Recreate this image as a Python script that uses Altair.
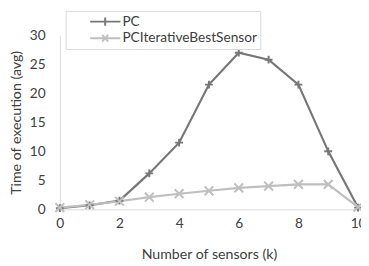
import altair as alt
import pandas as pd

k_values = [0, 1, 2, 3, 4, 5, 6, 7, 8, 9, 10]
pc_values = [0.2, 0.7, 1.5, 6.2, 11.5, 21.5, 27.0, 25.8, 21.5, 10.0, 0.3]
iter_values = [0.3, 0.8, 1.4, 2.1, 2.7, 3.2, 3.7, 4.0, 4.3, 4.3, 0.4]
series_names = ["PC", "PCIterativeBestSensor"]
series_colors = ["#777777", "#bfbfbf"]
x_ticks = [0, 2, 4, 6, 8, 10]
y_ticks = [0, 5, 10, 15, 20, 25, 30]

rows = []
for i, k in enumerate(k_values):
    rows.append({"k": k, "value": pc_values[i], "series": series_names[0]})
    rows.append({"k": k, "value": iter_values[i], "series": series_names[1]})
df = pd.DataFrame(rows)

FONT = "Lato"
TXT = "#404040"

# marker paths (unit square -1..1)
plus_path = "M-0.8,0H0.8M0,-0.8V0.8"
x_path = "M-0.9,-0.9L0.9,0.9M-0.9,0.9L0.9,-0.9"
# legend symbol paths: line segment plus marker
leg_plus = "M-0.19,0H1.0M0.4,-0.16V0.16"
leg_x = "M-0.19,0H1.0M0.28,-0.13L0.52,0.13M0.28,0.13L0.52,-0.13"

x_enc = alt.X("k:Q", scale=alt.Scale(domain=[0, 10], nice=False),
              axis=alt.Axis(values=x_ticks, title="Number of sensors (k)",
                            labelPadding=8, titlePadding=17, labelFlush=False))
y_enc = alt.Y("value:Q", scale=alt.Scale(domain=[0, 30], nice=False),
              axis=alt.Axis(values=y_ticks, title="Time of execution (avg)",
                            labelPadding=15, titlePadding=6, labelFlush=False))

scale_color = alt.Scale(domain=series_names, range=series_colors)

NBSP = "\u00a0" * 6
leg_props = dict(title=None, orient="none", legendX=6, legendY=-25,
                 symbolSize=2704, symbolOpacity=1, symbolStrokeWidth=2,
                 clipHeight=16, rowPadding=1, padding=3,
                 strokeColor="#d9d9d9", fillColor="white",
                 labelFont=FONT, labelFontSize=14, labelColor=TXT,
                 labelOffset=1, labelLimit=0,
                 labelExpr="datum.label + '" + NBSP + "'")

base = alt.Chart(df).encode(x=x_enc, y=y_enc, order=alt.Order("k:Q"))

lines = base.mark_line(strokeWidth=2.2).encode(
    color=alt.Color("series:N", scale=scale_color, legend=None))

points = base.mark_point(filled=False, size=100, strokeWidth=2, opacity=1).encode(
    color=alt.Color("series:N", scale=scale_color, legend=None),
    shape=alt.Shape("series:N", scale=alt.Scale(domain=series_names, range=[plus_path, x_path]),
                    legend=None)
)

legend_layer = base.mark_point(filled=False, opacity=0, strokeWidth=2).encode(
    color=alt.Color("series:N", scale=scale_color, legend=alt.Legend(**leg_props)),
    shape=alt.Shape("series:N",
                    scale=alt.Scale(domain=series_names, range=[leg_plus, leg_x]),
                    legend=alt.Legend(**leg_props))
)

chart = alt.layer(lines, points, legend_layer).resolve_scale(
    shape="independent", color="independent"
).properties(
    width=305, height=178,
    autosize=alt.AutoSizeParams(type="none"),
    padding={"left": 53, "top": 25, "right": 3, "bottom": 55},
    background="white",
).configure_view(stroke=None).configure_axis(
    grid=False, ticks=False, domainColor="#d9d9d9", domainWidth=1,
    labelFont=FONT, labelFontSize=14, labelColor=TXT,
    titleFont=FONT, titleFontSize=14.5, titleColor=TXT, titleFontWeight="normal",
)

chart.save("out.html", embed_options={"renderer": "svg", "actions": False})
